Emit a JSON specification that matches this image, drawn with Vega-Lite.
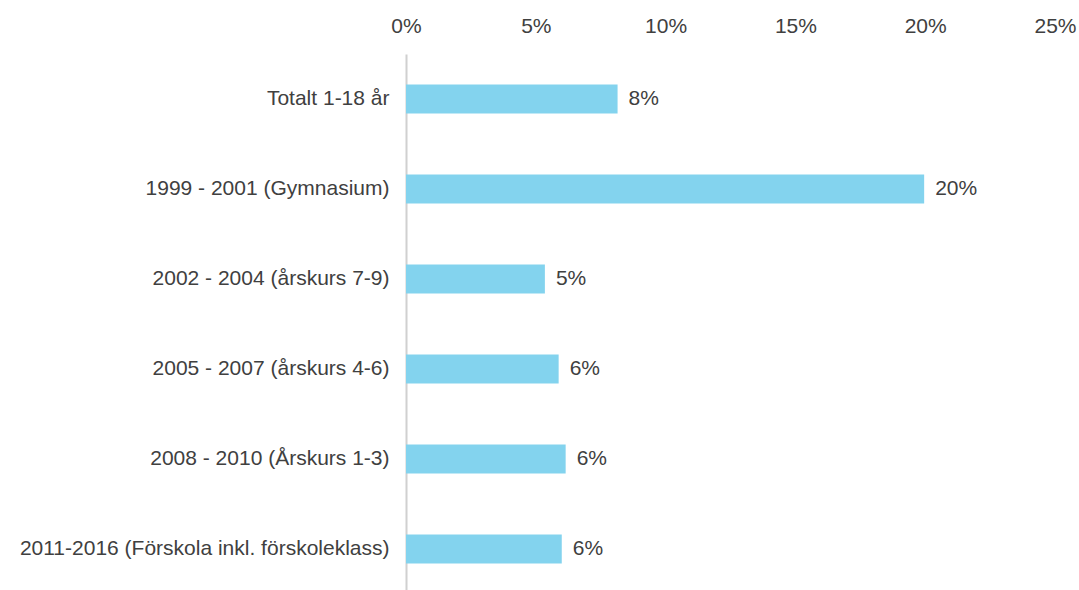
{
  "$schema": "https://vega.github.io/schema/vega-lite/v6.json",
  "autosize": {"type": "none"},
  "padding": {"left": 406, "top": 54, "right": 24, "bottom": 0},
  "width": 649,
  "height": 540,
  "background": "white",
  "config": {"view": {"stroke": null}, "font": "Liberation Sans"},
  "data": {"values": [
    {"kategori": "Totalt 1-18 år", "andel": 0.0815},
    {"kategori": "1999 - 2001 (Gymnasium)", "andel": 0.1996},
    {"kategori": "2002 - 2004 (årskurs 7-9)", "andel": 0.0535},
    {"kategori": "2005 - 2007 (årskurs 4-6)", "andel": 0.0588},
    {"kategori": "2008 - 2010 (Årskurs 1-3)", "andel": 0.0615},
    {"kategori": "2011-2016 (Förskola inkl. förskoleklass)", "andel": 0.0600}
  ]},
  "encoding": {
    "y": {"field": "kategori", "type": "nominal", "sort": null, "title": null,
      "scale": {"paddingInner": 0.68, "paddingOuter": 0.34},
      "axis": {"domainColor": "#d0d0d0", "domainWidth": 2, "ticks": false, "labelPadding": 17,
        "labelFontSize": 21, "labelColor": "#404040", "labelLimit": 500}},
    "x": {"field": "andel", "type": "quantitative", "title": null,
      "scale": {"domain": [0, 0.25], "nice": false},
      "axis": {"orient": "top", "format": ".0%", "values": [0, 0.05, 0.1, 0.15, 0.2, 0.25],
        "domain": false, "ticks": false, "grid": false, "labelPadding": 18,
        "labelFontSize": 21, "labelColor": "#404040", "labelFlush": false}}
  },
  "layer": [
    {"mark": {"type": "bar", "color": "#83D3EE"}},
    {"mark": {"type": "text", "align": "left", "dx": 11, "fontSize": 21, "color": "#404040"},
     "encoding": {"text": {"field": "andel", "type": "quantitative", "format": ".0%"}}}
  ]
}
